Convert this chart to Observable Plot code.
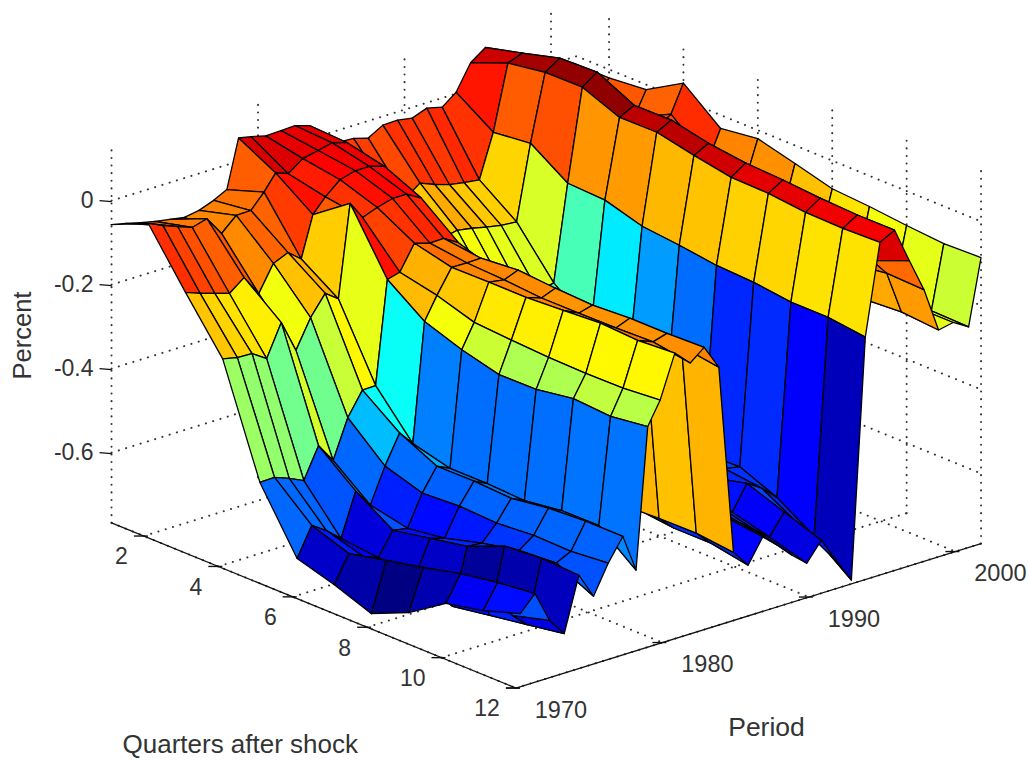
<!DOCTYPE html>
<html><head><meta charset="utf-8">
<script src="https://cdn.jsdelivr.net/npm/d3@7"></script>
<script src="https://cdn.jsdelivr.net/npm/@observablehq/plot@0.6"></script>
<style>body{margin:0;background:#fff}svg{display:block}</style>
</head><body><div id="chart"></div>
<script>
const quarters=[1,2,3,4,5,6,7,8,9,10,11,12];
const periods=[1970.3,1971.3,1972.3,1973.3,1974.3,1975.3,1976.3,1977.3,1978.2,1979,1979.85,1980.85,1981.9,1982.85,1983.85,1984.85,1985.85,1986.85,1987.85,1988.85,1989.85,1990.85,1991.85,1992.9,1993.85,1994.85,1995.85,1996.85,1997.85,1998.85,1999.85,2000.9,2001.75];
const r00=[-.065,-.026,-.154,-.276,-.534,-.679,-.705,-.738,-.699,-.641,-.622,-.593];
const r01=[-.073,-.042,-.167,-.284,-.533,-.611,-.642,-.622,-.603,-.581,-.566,-.556];
const r02=[-.082,-.055,-.178,-.285,-.546,-.634,-.66,-.64,-.62,-.606,-.655,-.631];
const r03=[-.09,-.068,-.189,-.308,-.562,-.664,-.673,-.68,-.717,-.702,-.688,-.673];
const r04=[-.096,-.058,-.162,-.233,-.49,-.562,-.619,-.602,-.585,-.548,-.541,-.545];
const r05=[-.102,-.104,-.211,-.31,-.536,-.606,-.625,-.612,-.588,-.569,-.563,-.606];
const r06=[-.096,-.072,-.15,-.243,-.445,-.524,-.552,-.547,-.551,-.544,-.546,-.538];
const r07=[-.083,-.071,-.135,-.196,-.39,-.456,-.499,-.498,-.503,-.49,-.485,-.485];
const r08=[-.067,-.037,-.16,-.219,-.389,-.491,-.514,-.514,-.518,-.506,-.505,-.575];
const r09=[.047,0,-.063,0,-.145,-.209,-.24,-.263,-.262,-.248,-.254,-.242];
const r10=[.041,-.011,-.03,-.043,-.137,-.156,-.184,-.19,-.195,-.197,-.196,-.188];
const r11=[.032,.014,0,-.03,-.079,-.1,-.099,-.099,-.094,-.088,-.093,-.087];
const r12=[.033,.022,.01,-.02,-.09,-.101,-.105,-.112,-.112,-.111,-.108,-.122];
const r13=[.035,.03,.01,-.02,-.089,-.1,-.092,-.099,-.103,-.098,-.098,-.095];
const r14=[.024,.02,0,-.04,-.11,-.14,-.14,-.14,-.14,-.15,-.14,-.153];
const r15=[-.023,-.08,-.15,-.25,-.4,-.5,-.55,-.58,-.6,-.596,-.595,-.605];
const r16=[-.037,-.099,-.2,-.3,-.45,-.52,-.57,-.6,-.62,-.63,-.63,-.646];
const r17=[-.039,-.138,-.21,-.32,-.47,-.54,-.58,-.62,-.64,-.57,-.579,-.59];
const r18=[-.049,-.156,-.215,-.33,-.46,-.54,-.58,-.62,-.64,-.59,-.604,-.62];
const r19=[-.029,-.131,-.207,-.33,-.44,-.53,-.57,-.6,-.63,-.61,-.631,-.655];
const r20=[-.028,-.145,-.213,-.34,-.43,-.52,-.56,-.6,-.62,-.636,-.659,-.685];
const r21=[-.034,-.156,-.221,-.35,-.42,-.5,-.55,-.58,-.6,-.578,-.61,-.641];
const r22=[-.021,-.162,-.228,-.35,-.41,-.49,-.53,-.58,-.59,-.6,-.65,-.7];
const r23=[-.03,-.167,-.231,-.34,-.41,-.47,-.52,-.6,-.597,-.634,-.69,-.758];
const r24=[-.005,-.064,-.054,-.113,-.117,-.143,-.152,-.164,-.168,-.179,-.179,-.19];
const r25=[.055,.09,.104,.105,.069,.07,.051,.035,.033,.024,.022,.025];
const r26=[.08,.103,.127,.13,.087,.088,.069,.058,.054,.047,.043,.043];
const r27=[.03,.05,.06,.05,0,-.01,-.03,-.05,-.06,-.08,-.076,-.04];
const r28=[-.02,-.02,-.02,-.02,-.06,-.07,-.08,-.1,-.11,-.13,-.117,-.12];
const r29=[-.05,-.05,-.05,-.05,-.1,-.11,-.14,-.17,-.2,-.226,-.22,-.227];
const r30=[-.05,-.05,-.05,-.05,-.1,-.11,-.14,-.17,-.2,-.22,-.22,-.22];
const r31=[-.05,-.06,-.07,-.025,-.1,-.11,-.15,-.18,-.21,-.22,-.24,-.242];
const r32=[-.02,-.02,-.012,.04,-.032,-.02,-.043,-.067,-.073,-.082,-.089,-.086];
const rows=[r00,r01,r02,r03,r04,r05,r06,r07,r08,r09,r10,r11,r12,r13,r14,r15,r16,r17,r18,r19,r20,r21,r22,r23,r24,r25,r26,r27,r28,r29,r30,r31,r32];
const quarterTicks=[2,4,6,8,10,12];
const periodTicks=[1970,1980,1990,2000];
const percentTicks=[0,-.2,-.4,-.6];
const percentLabels=["0","-0.2","-0.4","-0.6"];

const W=1028,H=761;
const zFloor=-.767,zTop=.136,qMin=1.13,qMax=12,pMin=1970,pMax=2001.75;
const px=(p,q)=>69+37.2*q+14.65*(p-1970);
const py=(p,q,z)=>183+15.2*q-4.55*(p-1970)-420*z;
const pt=(p,q,z,id,v)=>({x:px(p,q),y:py(p,q,z),id,v});

const cells=[];
for(let i=periods.length-2;i>=0;i--)for(let j=0;j<quarters.length-1;j++){
  const id=i+"-"+j,v=rows[i][j];
  const a=[[i,j],[i,j+1],[i+1,j+1],[i+1,j],[i,j]];
  for(const [a1,a2] of a)cells.push(pt(periods[a1],quarters[a2],rows[a1][a2],id,v));
}

const seg=(id,a,b)=>[{...pt(...a),id},{...pt(...b),id}];
const grid=[];
for(const q of quarterTicks){grid.push(...seg("q"+q,[pMin,q,zFloor],[pMax,q,zFloor]),...seg("qw"+q,[pMax,q,zFloor],[pMax,q,zTop]));}
for(const p of periodTicks){grid.push(...seg("p"+p,[p,qMin,zFloor],[p,qMax,zFloor]),...seg("pw"+p,[p,qMin,zFloor],[p,qMin,zTop]));}
for(const z of percentTicks){grid.push(
  {...pt(pMin,qMin,z),id:"z"+z},{...pt(pMax,qMin,z),id:"z"+z},{...pt(pMax,qMax,z),id:"z"+z});}
const axes=[pt(pMin,qMin,zFloor,"a"),pt(pMin,qMax,zFloor,"a"),pt(pMax,qMax,zFloor,"a")];
const tickSegs=[];
for(const q of quarterTicks)tickSegs.push({x1:px(pMin,q)-10,x2:px(pMin,q)+4,y1:py(pMin,q,zFloor),y2:py(pMin,q,zFloor)});
for(const p of periodTicks)tickSegs.push({x1:px(p,qMax)-10,x2:px(p,qMax)+4,y1:py(p,qMax,zFloor),y2:py(p,qMax,zFloor)});
for(const z of percentTicks)tickSegs.push({x1:px(pMin,qMin)-12,x2:px(pMin,qMin),y1:py(pMin,qMin,z),y2:py(pMin,qMin,z)+1});

const warp=d3.scaleLinear().domain([0,.22,.28,.64,1]).range([0,.22,.24,.64,1]);
const jet=t0=>{const t=warp(t0),c=v=>Math.round(255*Math.max(0,Math.min(1,v)));
  return `rgb(${c(1.5-Math.abs(4*t-3))},${c(1.5-Math.abs(4*t-2))},${c(1.5-Math.abs(4*t-1))})`;};
const font="Liberation Sans, Arial, sans-serif";
const ink="#333";
const chart=Plot.plot({
  width:W,height:H,margin:0,style:{background:"#fff",overflow:"visible"},
  x:{domain:[0,W],range:[0,W],axis:null},
  y:{domain:[0,H],range:[0,H],axis:null},
  color:{type:"linear",domain:[-.74,.12],interpolate:jet,clamp:true},
  marks:[
    Plot.line(grid,{x:"x",y:"y",z:"id",stroke:"#333",strokeWidth:2,strokeDasharray:"0.1,7.5",strokeLinecap:"round"}),
    Plot.line(axes,{x:"x",y:"y",z:"id",stroke:"#111",strokeWidth:1.3}),
    Plot.link(tickSegs,{x1:"x1",x2:"x2",y1:"y1",y2:"y2",stroke:"#111",strokeWidth:1.4}),
    Plot.line(cells,{x:"x",y:"y",z:"id",fill:"v",stroke:"#000",strokeWidth:1.3,strokeLinejoin:"round"}),
    Plot.text(quarterTicks,{x:q=>px(pMin,q),y:q=>py(pMin,q,zFloor),text:String,textAnchor:"end",dx:-16,dy:21,fontSize:23,fontFamily:font,fill:ink}),
    Plot.text(periodTicks,{x:p=>px(p,qMax),y:p=>py(p,qMax,zFloor),text:String,textAnchor:"middle",dx:45,dy:22,fontSize:23.5,fontFamily:font,fill:ink}),
    Plot.text(percentTicks,{x:()=>px(pMin,qMin),y:z=>py(pMin,qMin,z),text:(z,i)=>percentLabels[i],textAnchor:"end",dx:-18,fontSize:23,fontFamily:font,fill:ink}),
    Plot.text(["Quarters after shock"],{frameAnchor:"top-left",dx:122,dy:734,text:d=>d,textAnchor:"start",fontSize:26,fontFamily:font,fill:ink}),
    Plot.text(["Period"],{frameAnchor:"top-left",dx:766,dy:717,text:d=>d,textAnchor:"middle",fontSize:26.5,fontFamily:font,fill:ink}),
    Plot.text(["Percent"],{frameAnchor:"top-left",dx:12,dy:335,text:d=>d,rotate:-90,textAnchor:"middle",fontSize:25.5,fontFamily:font,fill:ink})
  ]
});
document.getElementById("chart").append(chart);
</script>
</body></html>
